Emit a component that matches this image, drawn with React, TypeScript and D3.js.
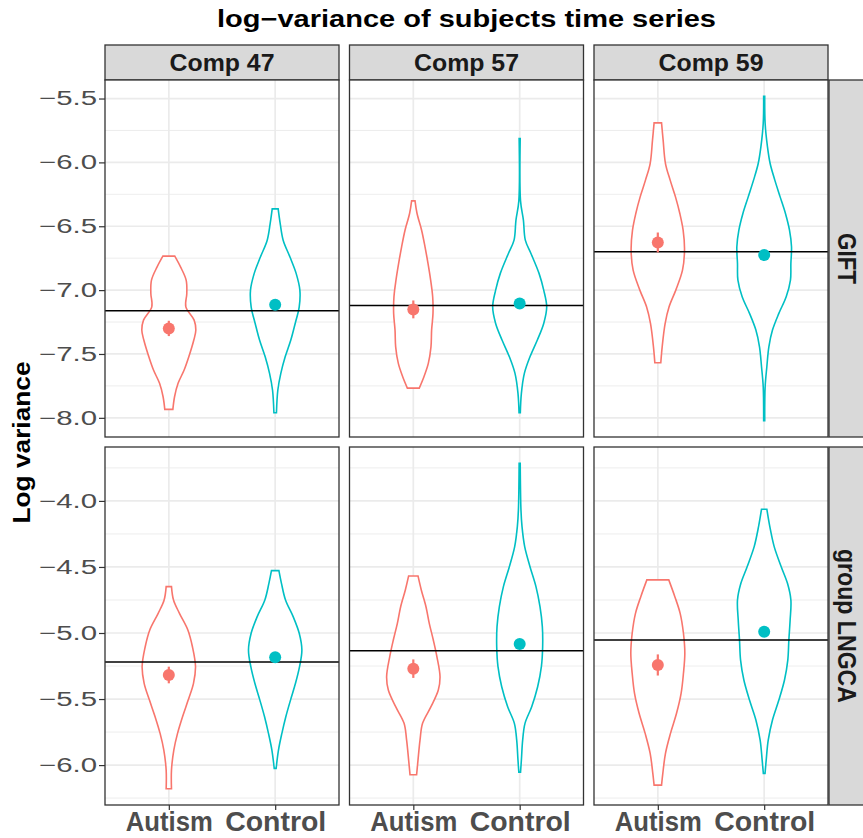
import * as d3 from 'd3'
import { useEffect, useRef } from 'react'

const comps = ['Comp 47', 'Comp 57', 'Comp 59']
const methods = ['GIFT', 'group LNGCA']
const groups = ['Autism', 'Control']
const groupColors = ['#F8766D', '#00BFC4']

// violin outlines: [log variance, half width in x units]
const gift47Autism = [
  [-6.734, 0.056], [-6.818, 0.11], [-6.922, 0.163], [-7.026, 0.169], [-7.131, 0.16],
  [-7.235, 0.238], [-7.313, 0.254], [-7.391, 0.235], [-7.522, 0.188], [-7.626, 0.144],
  [-7.73, 0.087], [-7.835, 0.054], [-7.934, 0.038],
]
const gift47Control = [
  [-6.364, 0.028], [-6.478, 0.047], [-6.609, 0.075], [-6.739, 0.138], [-6.869, 0.197],
  [-7.0, 0.232], [-7.131, 0.226], [-7.261, 0.188], [-7.391, 0.147], [-7.522, 0.094],
  [-7.652, 0.053], [-7.782, 0.025], [-7.96, 0.012],
]
const gift57Autism = [
  [-6.301, 0.016], [-6.4, 0.035], [-6.531, 0.078], [-6.661, 0.11], [-6.791, 0.138],
  [-6.922, 0.163], [-7.052, 0.182], [-7.182, 0.185], [-7.313, 0.172], [-7.444, 0.166],
  [-7.574, 0.141], [-7.678, 0.1], [-7.767, 0.056],
]
const gift57Control = [
  [-5.813, 0.005], [-6.301, 0.008], [-6.452, 0.035], [-6.609, 0.053], [-6.713, 0.106],
  [-6.869, 0.182], [-7.0, 0.226], [-7.131, 0.254], [-7.261, 0.226], [-7.391, 0.166],
  [-7.522, 0.097], [-7.652, 0.044], [-7.808, 0.016], [-7.96, 0.006],
]
const gift59Autism = [
  [-5.691, 0.035], [-5.826, 0.05], [-6.009, 0.072], [-6.139, 0.116], [-6.27, 0.166],
  [-6.4, 0.207], [-6.531, 0.238], [-6.687, 0.251], [-6.844, 0.232], [-7.0, 0.169],
  [-7.131, 0.106], [-7.261, 0.069], [-7.444, 0.041], [-7.569, 0.028],
]
const gift59Control = [
  [-5.482, 0.005], [-5.696, 0.009], [-5.879, 0.031], [-6.009, 0.056], [-6.139, 0.1],
  [-6.27, 0.15], [-6.4, 0.2], [-6.531, 0.238], [-6.661, 0.257], [-6.791, 0.251],
  [-6.922, 0.247], [-7.052, 0.207], [-7.182, 0.138], [-7.313, 0.078], [-7.444, 0.044],
  [-7.6, 0.025], [-7.757, 0.009], [-8.023, 0.005],
]
const lngca47Autism = [
  [-4.649, 0.025], [-4.75, 0.044], [-4.851, 0.1], [-4.977, 0.179], [-5.104, 0.222],
  [-5.255, 0.251], [-5.381, 0.232], [-5.508, 0.182], [-5.634, 0.129], [-5.76, 0.082],
  [-5.886, 0.047], [-6.038, 0.025], [-6.179, 0.025],
]
const lngca47Control = [
  [-4.528, 0.035], [-4.624, 0.059], [-4.75, 0.097], [-4.876, 0.169], [-5.002, 0.226],
  [-5.129, 0.251], [-5.255, 0.229], [-5.381, 0.191], [-5.508, 0.144], [-5.634, 0.1],
  [-5.76, 0.063], [-5.886, 0.031], [-6.025, 0.009],
]
const lngca57Autism = [
  [-4.568, 0.044], [-4.674, 0.075], [-4.801, 0.119], [-4.927, 0.15], [-5.053, 0.188],
  [-5.18, 0.222], [-5.331, 0.251], [-5.432, 0.235], [-5.558, 0.166], [-5.684, 0.087],
  [-5.811, 0.063], [-5.962, 0.044], [-6.073, 0.031],
]
const lngca57Control = [
  [-3.715, 0.005], [-4.068, 0.012], [-4.195, 0.022], [-4.346, 0.047], [-4.498, 0.097],
  [-4.649, 0.153], [-4.801, 0.191], [-4.952, 0.213], [-5.104, 0.216], [-5.255, 0.204],
  [-5.407, 0.169], [-5.558, 0.113], [-5.684, 0.05], [-5.811, 0.028], [-5.962, 0.016],
  [-6.053, 0.008],
]
const lngca59Autism = [
  [-4.598, 0.103], [-4.725, 0.16], [-4.851, 0.21], [-5.002, 0.241], [-5.154, 0.254],
  [-5.305, 0.241], [-5.457, 0.219], [-5.608, 0.176], [-5.76, 0.119], [-5.911, 0.072],
  [-6.063, 0.047], [-6.152, 0.035],
]
const lngca59Control = [
  [-4.063, 0.025], [-4.195, 0.053], [-4.346, 0.094], [-4.498, 0.16], [-4.624, 0.219],
  [-4.75, 0.251], [-4.902, 0.244], [-5.053, 0.232], [-5.205, 0.222], [-5.356, 0.191],
  [-5.508, 0.138], [-5.659, 0.078], [-5.811, 0.038], [-5.962, 0.019], [-6.063, 0.008],
]

// mean log variance per group, and half length of the error bar
const giftMeans = [[-7.3, -7.115], [-7.151, -7.104], [-6.627, -6.726]]
const lngcaMeans = [[-5.318, -5.184], [-5.27, -5.083], [-5.242, -4.99]]
const giftErrors = [[0.06, 0.03], [0.07, 0.03], [0.078, 0.03]]
const lngcaErrors = [[0.063, 0.03], [0.07, 0.03], [0.08, 0.03]]
// overall mean line per panel
const giftOverall = [-7.162, -7.12, -6.7]
const lngcaOverall = [-5.22, -5.134, -5.053]

const violins = [
  [[gift47Autism, gift47Control], [gift57Autism, gift57Control], [gift59Autism, gift59Control]],
  [[lngca47Autism, lngca47Control], [lngca57Autism, lngca57Control], [lngca59Autism, lngca59Control]],
]
const means = [giftMeans, lngcaMeans]
const errors = [giftErrors, lngcaErrors]
const overall = [giftOverall, lngcaOverall]

const xLabelWidth: Record<string, number> = { Autism: 87, Control: 101 }

export default function App() {
  const ref = useRef<SVGSVGElement>(null)

  useEffect(() => {
    if (!ref.current) return
    const svg = d3.select(ref.current)
    svg.selectAll('*').remove()

    const font = "'Liberation Sans', Arial, sans-serif"
    const colX = [105, 349.5, 594]
    const panelW = 234
    const rowY = [80, 447]
    const panelH = [357, 358]

    // Title
    svg
      .append('text')
      .attr('x', colX[0] + (colX[2] + panelW - colX[0]) / 2)
      .attr('y', 27)
      .attr('text-anchor', 'middle')
      .attr('font-family', font)
      .attr('font-weight', 'bold')
      .attr('font-size', 23)
      .attr('fill', '#000')
      .attr('textLength', 499)
      .attr('lengthAdjust', 'spacingAndGlyphs')
      .text('log\u2212variance of subjects time series')

    // Top strips
    comps.forEach((comp, c) => {
      svg
        .append('rect')
        .attr('x', colX[c])
        .attr('y', 45)
        .attr('width', panelW)
        .attr('height', 35)
        .attr('fill', '#d9d9d9')
        .attr('stroke', '#333')
        .attr('stroke-width', 1.3)
      svg
        .append('text')
        .attr('x', colX[c] + panelW / 2)
        .attr('y', 70.5)
        .attr('text-anchor', 'middle')
        .attr('font-family', font)
        .attr('font-weight', 'bold')
        .attr('font-size', 24)
        .attr('fill', '#1a1a1a')
        .attr('textLength', 105)
        .attr('lengthAdjust', 'spacingAndGlyphs')
        .text(comp)
    })

    methods.forEach((method, r) => {
      const allValues = violins[r].flatMap(pair =>
        pair.flatMap(v => v.map(d => d[0]))
      )
      const [lo, hi] = d3.extent(allValues) as [number, number]
      const pad = (hi - lo) * 0.05
      const y = d3
        .scaleLinear()
        .domain([lo - pad, hi + pad])
        .range([rowY[r] + panelH[r], rowY[r]])
      const major = y.ticks(5)
      const step = major[1] - major[0]
      const [d0, d1] = y.domain()
      const minor = [major[0] - step / 2, ...major.map(m => m + step / 2)].filter(
        v => v >= d0 && v <= d1
      )

      comps.forEach((comp, c) => {
        const x = d3
          .scalePoint<string>()
          .domain(groups)
          .range([colX[c], colX[c] + panelW])
          .padding(0.6)
        const unit = x.step()
        const g = svg.append('g')

        g.append('rect')
          .attr('x', colX[c])
          .attr('y', rowY[r])
          .attr('width', panelW)
          .attr('height', panelH[r])
          .attr('fill', '#fff')

        // Grid
        g.selectAll('.minor')
          .data(minor)
          .enter()
          .append('line')
          .attr('x1', colX[c])
          .attr('x2', colX[c] + panelW)
          .attr('y1', d => y(d))
          .attr('y2', d => y(d))
          .attr('stroke', '#ebebeb')
          .attr('stroke-width', 0.9)
        g.selectAll('.major')
          .data(major)
          .enter()
          .append('line')
          .attr('x1', colX[c])
          .attr('x2', colX[c] + panelW)
          .attr('y1', d => y(d))
          .attr('y2', d => y(d))
          .attr('stroke', '#ebebeb')
          .attr('stroke-width', 1.7)
        g.selectAll('.xgrid')
          .data(groups)
          .enter()
          .append('line')
          .attr('x1', d => x(d)!)
          .attr('x2', d => x(d)!)
          .attr('y1', rowY[r])
          .attr('y2', rowY[r] + panelH[r])
          .attr('stroke', '#ebebeb')
          .attr('stroke-width', 1.7)

        // Violins
        groups.forEach((grp, k) => {
          const cx = x(grp)!
          const area = d3
            .area<number[]>()
            .y(d => y(d[0]))
            .x0(d => cx - d[1] * unit)
            .x1(d => cx + d[1] * unit)
            .curve(d3.curveCatmullRom.alpha(0.5))
          g.append('path')
            .datum(violins[r][c][k])
            .attr('d', area)
            .attr('fill', '#fff')
            .attr('stroke', groupColors[k])
            .attr('stroke-width', 1.6)
        })

        // Overall mean line
        g.append('line')
          .attr('x1', colX[c])
          .attr('x2', colX[c] + panelW)
          .attr('y1', y(overall[r][c]))
          .attr('y2', y(overall[r][c]))
          .attr('stroke', '#000')
          .attr('stroke-width', 1.6)

        // Means with error bars
        groups.forEach((grp, k) => {
          const cx = x(grp)!
          const m = means[r][c][k]
          const e = errors[r][c][k]
          g.append('line')
            .attr('x1', cx)
            .attr('x2', cx)
            .attr('y1', y(m - e))
            .attr('y2', y(m + e))
            .attr('stroke', groupColors[k])
            .attr('stroke-width', 2.2)
          g.append('circle')
            .attr('cx', cx)
            .attr('cy', y(m))
            .attr('r', 6)
            .attr('fill', groupColors[k])
        })

        // Border
        g.append('rect')
          .attr('x', colX[c])
          .attr('y', rowY[r])
          .attr('width', panelW)
          .attr('height', panelH[r])
          .attr('fill', 'none')
          .attr('stroke', '#333')
          .attr('stroke-width', 1.3)

        // X axis under the bottom row
        if (r === methods.length - 1) {
          const ax = svg
            .append('g')
            .attr('transform', `translate(0,${rowY[r] + panelH[r]})`)
            .call(d3.axisBottom(x).tickSize(5).tickPadding(2))
          ax.select('.domain').remove()
          ax.selectAll('line').attr('stroke', '#333').attr('stroke-width', 1.2)
          ax.selectAll('text')
            .attr('font-family', font)
            .attr('font-weight', 'bold')
            .attr('font-size', 27)
            .attr('fill', '#4d4d4d')
            .attr('textLength', d => xLabelWidth[d as string])
            .attr('lengthAdjust', 'spacingAndGlyphs')
        }
      })

      // Y axis on the first column
      const ay = svg
        .append('g')
        .attr('transform', `translate(${colX[0]},0)`)
        .call(
          d3
            .axisLeft(y)
            .tickValues(major)
            .tickSize(6)
            .tickPadding(2)
            .tickFormat(d3.format('.1f'))
        )
      ay.select('.domain').remove()
      ay.selectAll('line').attr('stroke', '#333').attr('stroke-width', 1.2)
      ay.selectAll('text')
        .attr('font-family', font)
        .attr('font-size', 20)
        .attr('fill', '#4d4d4d')
        .attr('textLength', 58)
        .attr('lengthAdjust', 'spacingAndGlyphs')

      // Right strip
      const right = colX[2] + panelW
      svg
        .append('rect')
        .attr('x', right + 1)
        .attr('y', rowY[r])
        .attr('width', 45)
        .attr('height', panelH[r])
        .attr('fill', '#d9d9d9')
        .attr('stroke', '#333')
        .attr('stroke-width', 1.3)
      svg
        .append('text')
        .attr('transform', `translate(${right + 10},${rowY[r] + panelH[r] / 2}) rotate(90)`)
        .attr('text-anchor', 'middle')
        .attr('font-family', font)
        .attr('font-weight', 'bold')
        .attr('font-size', 26)
        .attr('fill', '#1a1a1a')
        .attr('textLength', method === 'GIFT' ? 51 : 154)
        .attr('lengthAdjust', 'spacingAndGlyphs')
        .text(method)
    })

    // Y axis title
    svg
      .append('text')
      .attr('transform', `translate(30,${(rowY[0] + rowY[1] + panelH[1]) / 2}) rotate(-90)`)
      .attr('text-anchor', 'middle')
      .attr('font-family', font)
      .attr('font-weight', 'bold')
      .attr('font-size', 23)
      .attr('fill', '#000')
      .attr('textLength', 162)
      .attr('lengthAdjust', 'spacingAndGlyphs')
      .text('Log variance')
  }, [])

  return (
    <svg
      ref={ref}
      width={863}
      height={838}
      style={{ position: 'absolute', left: 0, top: 0, display: 'block', background: '#fff' }}
    />
  )
}
